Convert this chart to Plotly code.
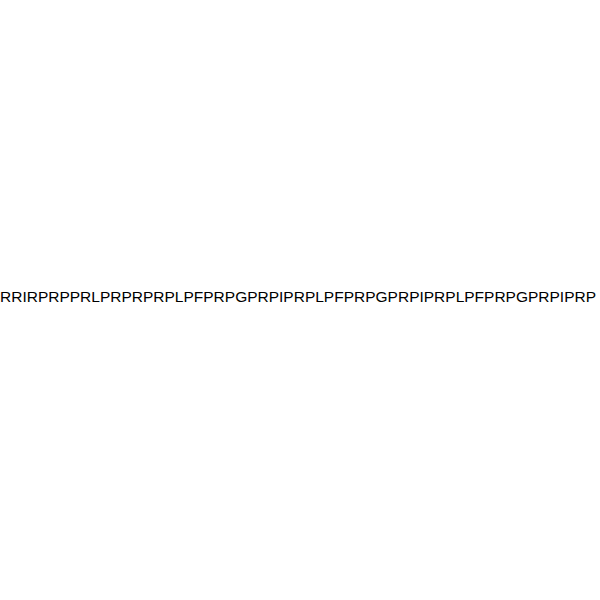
import plotly.graph_objects as go

# sequence shown as a single line of text
sequence = "RRIRPRPPRLPRPRPRPLPFPRPGPRPIPRPLPFPRPGPRPIPRPLPFPRPGPRPIPRP"

fig = go.Figure()
fig.add_annotation(
    text=sequence,
    x=0.497, y=0.506,
    xref="paper", yref="paper",
    showarrow=False,
    font=dict(family="Liberation Sans, Arial", size=15.5, color="black"),
)
fig.update_xaxes(visible=False)
fig.update_yaxes(visible=False)
fig.update_layout(
    width=600, height=600,
    margin=dict(l=0, r=0, t=0, b=0),
    paper_bgcolor="white",
    plot_bgcolor="white",
)
# drop the page margin so the 600x600 figure fills the window
fig.write_html(
    "out.html",
    config={"displayModeBar": False},
    post_script="document.body.style.margin='0';document.body.style.overflow='hidden';",
)
